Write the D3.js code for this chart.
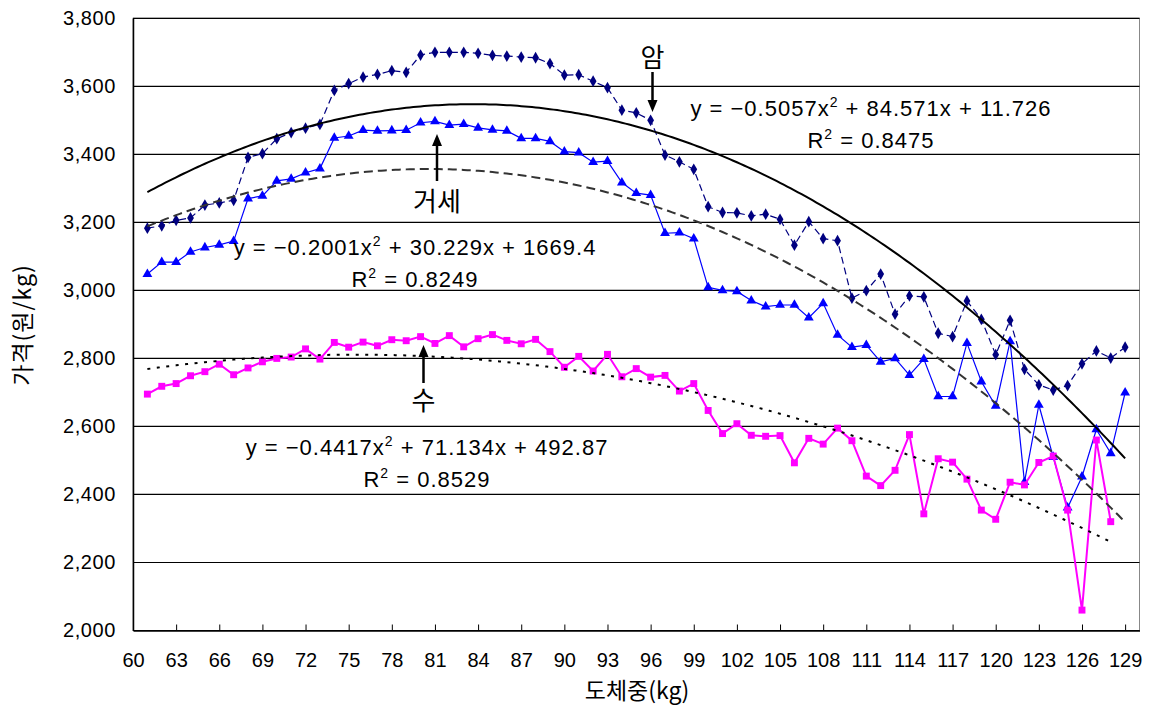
<!DOCTYPE html>
<html>
<head>
<meta charset="utf-8">
<script src="https://cdn.jsdelivr.net/npm/d3@7"></script>
<style>
  body { margin: 0; background: #fff; }
  svg { display: block; font-family: "Liberation Sans", Arial, sans-serif; }
</style>
</head>
<body>
<div id="chart"></div>
<script>
// weights (kg)
const weights = [61,62,63,64,65,66,67,68,69,70,71,72,73,74,75,76,77,78,79,80,
  81,82,83,84,85,86,87,88,89,90,91,92,93,94,95,96,97,98,99,100,
  101,102,103,104,105,106,107,108,109,110,111,112,113,114,115,116,117,118,119,120,
  121,122,123,124,125,126,127,128,129];

// 암 (heifer)
const amValues = [3183,3190,3206,3213,3251,3257,3265,3391,3402,3446,
  3464,3477,3488,3588,3608,3627,3635,3646,3641,3692,
  3700,3700,3700,3697,3691,3689,3686,3684,3667,3633,
  3634,3615,3596,3530,3522,3500,3398,3378,3356,3246,
  3229,3228,3219,3224,3209,3133,3202,3152,3146,2977,
  2999,3048,2930,2984,2981,2874,2864,2969,2915,2811,
  2912,2768,2722,2707,2720,2784,2822,2801,2833];

// 거세 (steer)
const geoseValues = [3048,3083,3083,3113,3126,3134,3145,3270,3278,3322,
  3328,3346,3358,3448,3454,3471,3469,3470,3471,3493,
  3497,3486,3489,3478,3472,3469,3447,3447,3438,3408,
  3405,3377,3380,3317,3286,3280,3168,3170,3152,3009,
  3000,2997,2970,2952,2957,2957,2920,2962,2869,2833,
  2839,2790,2800,2751,2798,2688,2688,2845,2732,2660,
  2850,2436,2663,2510,2361,2452,2591,2521,2699];

// 수 (bull)
const suValues = [2695,2718,2726,2749,2761,2783,2752,2772,2790,2800,
  2804,2828,2798,2847,2833,2848,2837,2855,2852,2864,
  2844,2867,2834,2858,2870,2853,2843,2856,2820,2774,
  2806,2763,2812,2746,2770,2745,2750,2704,2726,2647,
  2579,2608,2574,2571,2573,2493,2565,2548,2595,2558,
  2454,2426,2471,2576,2343,2505,2495,2445,2354,2327,
  2436,2428,2494,2513,2354,2060,2560,2320,null];

// polynomial trend coefficients [a, b, c]
const amTrend = [-0.5057, 84.571, 11.726];
const geoseTrend = [-0.4417, 71.134, 492.87];
const suTrend = [-0.2001, 30.229, 1669.4];

const xTicks = [60,63,66,69,72,75,78,81,84,87,90,93,96,99,102,105,108,111,114,117,120,123,126,129];
const yTicks = [2000,2200,2400,2600,2800,3000,3200,3400,3600,3800];

const width = 1149, height = 709;
const svg = d3.select("#chart").append("svg")
  .attr("width", width).attr("height", height);

const x = d3.scaleLinear().domain([60, 130]).range([133, 1139.5]);
const y = d3.scaleLinear().domain([2000, 3800]).range([630.5, 18.3]);

// plot frame + gridlines
svg.append("rect")
  .attr("x", x(60)).attr("y", y(3800))
  .attr("width", x(130) - x(60)).attr("height", y(2000) - y(3800))
  .attr("fill", "none").attr("stroke", "#888").attr("stroke-width", 1);

svg.append("g")
  .selectAll("line")
  .data(yTicks)
  .join("line")
    .attr("x1", x(60)).attr("x2", x(130))
    .attr("y1", d => y(d)).attr("y2", d => y(d))
    .attr("stroke", "#000").attr("stroke-width", 1.2);

// axes
const xAxis = svg.append("g")
  .attr("transform", `translate(0,${y(2000)})`)
  .call(d3.axisBottom(x).tickValues(xTicks).tickSizeInner(-6).tickSizeOuter(0).tickPadding(22));
xAxis.select(".domain").attr("stroke", "#000").attr("stroke-width", 1.5);
xAxis.selectAll("text").style("font-size", "20px").attr("fill", "#000");

const yAxis = svg.append("g")
  .attr("transform", `translate(${x(60)},0)`)
  .call(d3.axisLeft(y).tickValues(yTicks).tickFormat(d3.format(",")).tickSize(0).tickPadding(17));
yAxis.select(".domain").attr("stroke", "#000").attr("stroke-width", 1.5);
yAxis.selectAll("text").style("font-size", "20px").style("letter-spacing", "0.6px").attr("fill", "#000");

// axis titles
svg.append("text")
  .attr("x", 637).attr("y", 699)
  .attr("text-anchor", "middle")
  .style("font-family", "'Noto Sans CJK KR', sans-serif")
  .style("font-size", "23px")
  .text("도체중(kg)");

svg.append("text")
  .attr("transform", "translate(31,325) rotate(-90)")
  .attr("text-anchor", "middle")
  .style("font-family", "'Noto Sans CJK KR', sans-serif")
  .style("font-size", "23px")
  .style("letter-spacing", "1px")
  .text("가격(원/kg)");

// series
const line = d3.line()
  .defined(d => d[1] != null)
  .x(d => x(d[0])).y(d => y(d[1]));

function pairs(vals) {
  return weights.map((w, i) => [w, vals[i]]);
}

const series = [
  { name: "암", vals: amValues, color: "#000080", width: 1.2, dash: "7,4", symbol: d3.symbolDiamond, size: 40 },
  { name: "거세", vals: geoseValues, color: "#0000FF", width: 1.2, dash: null, symbol: d3.symbolTriangle, size: 42 },
  { name: "수", vals: suValues, color: "#FF00FF", width: 2, dash: null, symbol: d3.symbolSquare, size: 48 }
];

series.forEach(s => {
  const data = pairs(s.vals);
  svg.append("path")
    .datum(data)
    .attr("fill", "none")
    .attr("stroke", s.color)
    .attr("stroke-width", s.width)
    .attr("stroke-dasharray", s.dash)
    .attr("d", line);
  svg.append("g")
    .selectAll("path")
    .data(data.filter(d => d[1] != null))
    .join("path")
      .attr("transform", d => `translate(${x(d[0])},${y(d[1])})`)
      .attr("d", d3.symbol().type(s.symbol).size(s.size))
      .attr("fill", s.color);
});

// trend lines
const trends = [
  { coef: amTrend, from: 61, to: 129, dash: null, color: "#000", width: 2 },
  { coef: geoseTrend, from: 61, to: 129, dash: "9,5", color: "#333", width: 2 },
  { coef: suTrend, from: 61, to: 128, dash: "3,6.5", color: "#000", width: 2 }
];

trends.forEach(t => {
  const pts = d3.range(t.from, t.to + 0.001, 0.25)
    .map(v => [v, t.coef[0] * v * v + t.coef[1] * v + t.coef[2]]);
  svg.append("path")
    .datum(pts)
    .attr("fill", "none")
    .attr("stroke", t.color)
    .attr("stroke-width", t.width)
    .attr("stroke-dasharray", t.dash)
    .attr("d", line);
});

// equation labels
function equation(cx, cy, a, rest, r2) {
  const t = svg.append("text")
    .attr("x", cx).attr("y", cy)
    .attr("text-anchor", "middle")
    .style("font-size", "22px")
    .style("letter-spacing", "1px");
  t.append("tspan").text(`y = \u2212${a}x`);
  t.append("tspan").attr("dy", -9).style("font-size", "14px").text("2");
  t.append("tspan").attr("dy", 9).text(` + ${rest}`);
  const r = svg.append("text")
    .attr("x", cx).attr("y", cy + 32)
    .attr("text-anchor", "middle")
    .style("font-size", "22px")
    .style("letter-spacing", "1px");
  r.append("tspan").text("R");
  r.append("tspan").attr("dy", -9).style("font-size", "14px").text("2");
  r.append("tspan").attr("dy", 9).text(` = ${r2}`);
}

equation(871, 116, "0.5057", "84.571x + 11.726", "0.8475");
equation(415, 255, "0.2001", "30.229x + 1669.4", "0.8249");
equation(427, 455, "0.4417", "71.134x + 492.87", "0.8529");

// arrows with labels
function arrow(xp, yTail, yTip) {
  const dir = yTip > yTail ? 1 : -1;
  svg.append("line")
    .attr("x1", xp).attr("x2", xp)
    .attr("y1", yTail).attr("y2", yTip - dir * 8)
    .attr("stroke", "#000").attr("stroke-width", 2.5);
  svg.append("path")
    .attr("d", `M${xp - 5},${yTip - dir * 12}L${xp + 5},${yTip - dir * 12}L${xp},${yTip}Z`)
    .attr("fill", "#000");
}

function note(xp, yp, txt) {
  svg.append("text")
    .attr("x", xp).attr("y", yp)
    .attr("text-anchor", "middle")
    .style("font-family", "'Noto Sans CJK KR', sans-serif")
    .style("font-size", "26px")
    .text(txt);
}

arrow(652.5, 72, 112);
note(652.5, 67, "암");

arrow(437, 181, 134);
note(437, 211, "거세");

arrow(423.5, 383, 345);
note(423.5, 410, "수");
</script>
</body>
</html>
